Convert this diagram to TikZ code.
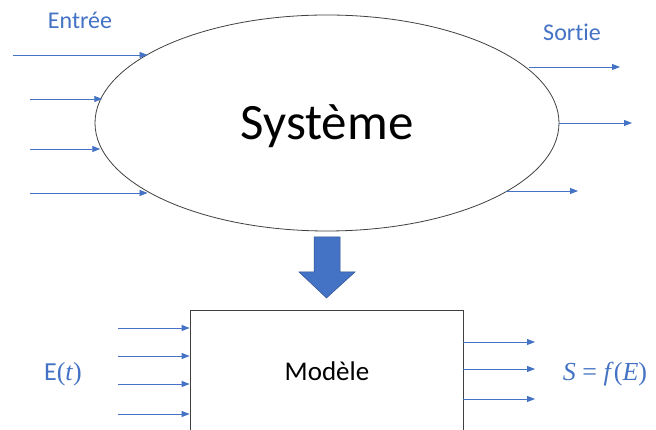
\documentclass[tikz,border=0pt]{standalone}
\usepackage{fontspec}
\setmainfont{Carlito}[Ligatures=NoCommon]
\newfontfamily\mserif{Liberation Serif}
\usetikzlibrary{shapes.geometric,arrows.meta}
\definecolor{ofblue}{HTML}{4472C4}
\definecolor{ofdark}{HTML}{2F528F}
\begin{document}
\begin{tikzpicture}[x=1pt,y=1pt,
  arr/.style={draw=ofblue, line width=0.8pt, -{Triangle[length=8pt,width=6pt]}},
  lbl/.style={text=ofblue, inner sep=0pt},
  outline/.style={draw=black!75, line width=0.8pt},
]
\clip (0,0) rectangle (656,430);
\fill[white] (0,0) rectangle (656,430);

% system ellipse
\node[ellipse, outline, minimum width=464pt, minimum height=216pt, inner sep=0pt] (sys) at (327,307) {};
\node[anchor=base, inner sep=0pt, font=\fontsize{51}{60}\selectfont] (systxt) at (327,290) {Système};

\node[lbl, font=\fontsize{24}{28}\selectfont] (entree) at (80,410) {Entrée};
\node[lbl, font=\fontsize{24}{28}\selectfont] (sortie) at (572,398) {Sortie};

% inputs
\coordinate (i1) at (13,375);
\coordinate (i2) at (30,331);
\coordinate (i3) at (30,281);
\coordinate (i4) at (30,237);
\draw[arr] (i1) -- (i1 -| sys.159.3);
\draw[arr] (i2) -- (i2 -| sys.173.9);
\draw[arr] (i3) -- (i3 -| sys.186.6);
\draw[arr] (i4) -- (i4 -| sys.201.6);

% outputs
\coordinate (o1) at (620,363);
\coordinate (o2) at (632,307);
\coordinate (o3) at (578,239);
\draw[arr] (o1 -| sys.15.8) -- (o1);
\draw[arr] (o2 -| sys.east) -- (o2);
\draw[arr] (o3 -| sys.339.3) -- (o3);

% big arrow
\filldraw[fill=ofblue, draw=ofdark, line width=0.5pt]
  (314,193) -- (340,193) -- (340,158) -- (355,158) -- (326.5,132) -- (299,158) -- (314,158) -- cycle;

% model box
\node[rectangle, outline, minimum width=273pt, minimum height=124pt, inner sep=0pt] (mod) at (326.5,58) {};
\node[anchor=base, inner sep=0pt, font=\fontsize{27}{32}\selectfont] (modtxt) at (327,49) {Modèle};

\coordinate (b1) at (118,102);
\coordinate (b2) at (118,74);
\coordinate (b3) at (118,46);
\coordinate (b4) at (118,16);
\draw[arr] (b1) -- (b1 -| mod.west);
\draw[arr] (b2) -- (b2 -| mod.west);
\draw[arr] (b3) -- (b3 -| mod.west);
\draw[arr] (b4) -- (b4 -| mod.west);

\coordinate (c1) at (535,88);
\coordinate (c2) at (535,61);
\coordinate (c3) at (535,31);
\draw[arr] (c1 -| mod.east) -- (c1);
\draw[arr] (c2 -| mod.east) -- (c2);
\draw[arr] (c3 -| mod.east) -- (c3);

\node[lbl, anchor=base, font=\fontsize{26}{30}\selectfont] (et) at (63,49) {E{\mserif(\textit{t})}};
\node[lbl, anchor=base, font=\fontsize{26}{30}\selectfont\mserif] (sf) at (605,49) {\textit{S} = \textit{f}(\textit{E})};
\end{tikzpicture}
\end{document}
